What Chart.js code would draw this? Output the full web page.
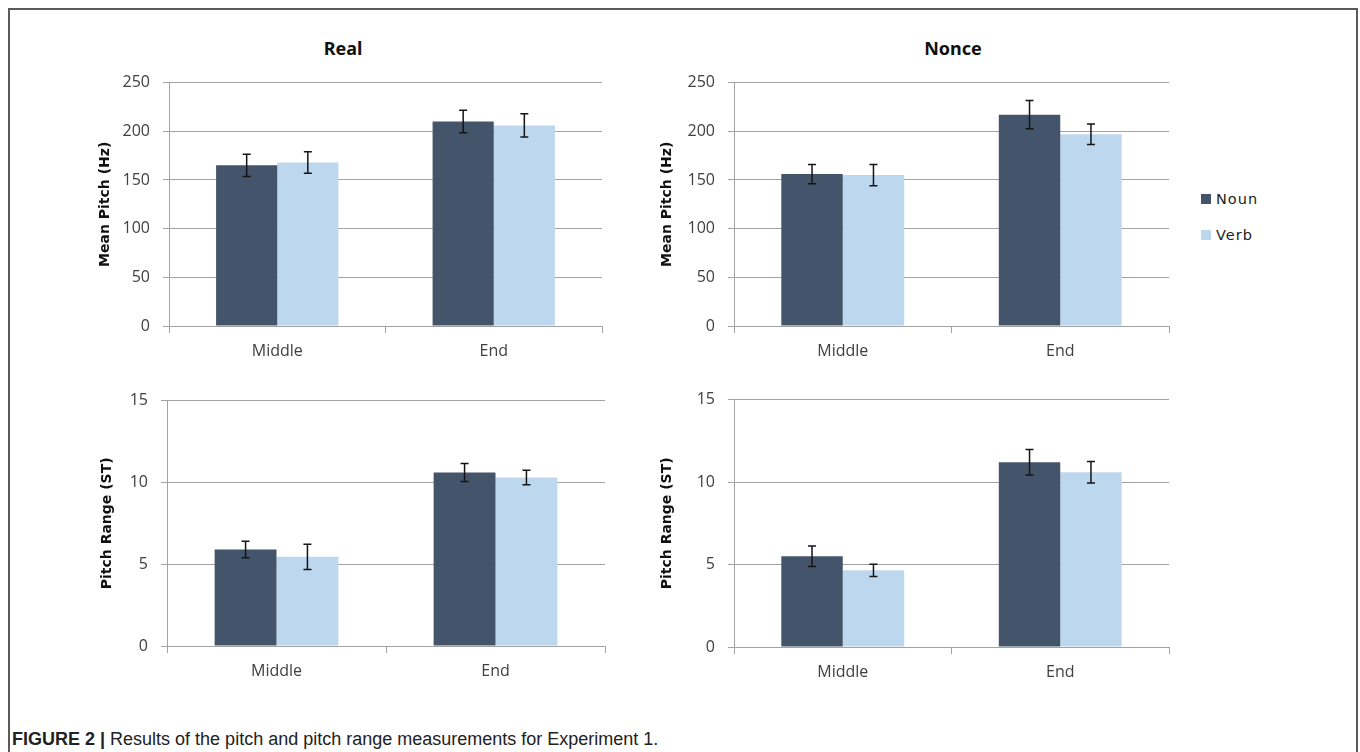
<!DOCTYPE html>
<html>
<head>
<meta charset="utf-8">
<script src="https://cdn.jsdelivr.net/npm/chart.js@4.4.1/dist/chart.umd.min.js"></script>
<style>
  body { margin: 0; background: #fff; width: 1360px; height: 752px; overflow: hidden; position: relative; }
  .frame { position: absolute; left: 8px; top: 8px; width: 1350px; height: 800px; border: 2px solid #5a5a5a; box-sizing: border-box; }
  canvas { position: absolute; }
  .title { position: absolute; top: 36px; font: bold 18px "Noto Sans", sans-serif; color: #111; transform: translateX(-50%); }
  .legend { position: absolute; left: 1201px; font: 14.5px "DejaVu Sans", sans-serif; letter-spacing: 1px; color: #222; }
  .legend div { position: relative; height: 20px; line-height: 20px; padding-left: 15px; }
  .legend span { position: absolute; left: 0; top: 5px; width: 10px; height: 10px; }
  .caption { position: absolute; left: 12px; top: 729px; font: 18px "Liberation Sans", sans-serif; color: #222; }
  .caption b { font-weight: bold; }
</style>
</head>
<body>
<div class="frame"></div>
<div class="title" style="left:343px">Real</div>
<div class="title" style="left:953px">Nonce</div>
<canvas id="realPitch"   width="560" height="310" style="left:60px;top:60px"></canvas>
<canvas id="noncePitch"  width="560" height="310" style="left:620px;top:60px"></canvas>
<canvas id="realRange"   width="560" height="312" style="left:60px;top:378px"></canvas>
<canvas id="nonceRange"  width="560" height="314" style="left:620px;top:377px"></canvas>
<div class="legend" style="top:189px">
  <div><span style="background:#44546a"></span>Noun</div>
</div>
<div class="legend" style="top:225px">
  <div><span style="background:#bdd7ee"></span>Verb</div>
</div>
<div class="caption"><b>FIGURE 2 |</b> Results of the pitch and pitch range measurements for Experiment 1.</div>

<script>
// ── Data ───────────────────────────────────────────────────────
const categories = ["Middle", "End"];
const seriesNames = ["Noun", "Verb"];

const realPitchNoun     = [165, 210];
const realPitchNounErr  = [11.5, 11.5];
const realPitchVerb     = [168, 206];
const realPitchVerbErr  = [11, 12];

const noncePitchNoun    = [156, 217];
const noncePitchNounErr = [10, 14.5];
const noncePitchVerb    = [155, 197];
const noncePitchVerbErr = [11, 10.5];

const realRangeNoun     = [5.9, 10.6];
const realRangeNounErr  = [0.5, 0.55];
const realRangeVerb     = [5.45, 10.3];
const realRangeVerbErr  = [0.77, 0.45];

const nonceRangeNoun    = [5.5, 11.2];
const nonceRangeNounErr = [0.62, 0.77];
const nonceRangeVerb    = [4.65, 10.6];
const nonceRangeVerbErr = [0.37, 0.65];

const pitchTicks = [0, 50, 100, 150, 200, 250];
const rangeTicks = [0, 5, 10, 15];

// ── Palette ────────────────────────────────────────────────────
const COLORS = {
  noun: "#44546a",
  verb: "#bdd7ee",
  grid: "#a3a3a3",
  tick: "#404040",
  err:  "#151515",
};

// ── Error bar plugin ───────────────────────────────────────────
const errorBars = {
  id: "errorBars",
  afterDatasetsDraw(chart) {
    const { ctx, scales: { y } } = chart;
    ctx.save();
    ctx.strokeStyle = COLORS.err;
    ctx.lineWidth = 1.5;
    chart.data.datasets.forEach((ds, i) => {
      chart.getDatasetMeta(i).data.forEach((bar, j) => {
        const v = ds.data[j], e = ds.errors[j];
        const top = y.getPixelForValue(v + e);
        const bot = y.getPixelForValue(v - e);
        ctx.beginPath();
        ctx.moveTo(bar.x, top); ctx.lineTo(bar.x, bot);
        ctx.moveTo(bar.x - 4, top); ctx.lineTo(bar.x + 4, top);
        ctx.moveTo(bar.x - 4, bot); ctx.lineTo(bar.x + 4, bot);
        ctx.stroke();
      });
    });
    ctx.restore();
  }
};

// ── Panel factory ──────────────────────────────────────────────
function makePanel(canvasId, { noun, nounErr, verb, verbErr, ticks, yTitle, yWidth, titlePad, padRight }) {
  const ctx = document.getElementById(canvasId);
  const max = ticks[ticks.length - 1];
  return new Chart(ctx, {
    type: "bar",
    data: {
      labels: categories,
      datasets: [
        { label: seriesNames[0], data: noun, errors: nounErr, backgroundColor: COLORS.noun },
        { label: seriesNames[1], data: verb, errors: verbErr, backgroundColor: COLORS.verb },
      ]
    },
    options: {
      responsive: false,
      animation: false,
      events: [],
      layout: { padding: { top: 20, right: padRight, left: 0, bottom: 0 } },
      datasets: { bar: { categoryPercentage: 0.565, barPercentage: 1 } },
      plugins: { legend: { display: false }, tooltip: { enabled: false } },
      scales: {
        x: {
          afterFit: s => { s.height = 44; },
          grid: { drawOnChartArea: false, drawTicks: true, tickLength: 7, color: COLORS.grid, lineWidth: 1 },
          border: { color: COLORS.grid, width: 1 },
          ticks: { color: COLORS.tick, padding: 9, font: { family: "'Open Sans'", size: 16 } }
        },
        y: {
          min: 0, max,
          afterFit: s => { s.width = yWidth; },
          afterBuildTicks: s => { s.ticks = ticks.map(v => ({ value: v })); },
          grid: { color: COLORS.grid, lineWidth: 1, tickLength: 6 },
          border: { color: COLORS.grid, width: 1 },
          ticks: { color: COLORS.tick, padding: 13, font: { family: "'Open Sans'", size: 16 } },
          title: {
            display: true, text: yTitle, color: "#111",
            padding: { top: titlePad, bottom: 0 },
            font: { family: "'DejaVu Sans'", size: 14, weight: "bold", lineHeight: 1.2 }
          }
        }
      }
    },
    plugins: [errorBars]
  });
}

makePanel("realPitch", {
  noun: realPitchNoun, nounErr: realPitchNounErr, verb: realPitchVerb, verbErr: realPitchVerbErr,
  ticks: pitchTicks, yTitle: "Mean Pitch (Hz)", yWidth: 109, titlePad: 37, padRight: 18
});
makePanel("noncePitch", {
  noun: noncePitchNoun, nounErr: noncePitchNounErr, verb: noncePitchVerb, verbErr: noncePitchVerbErr,
  ticks: pitchTicks, yTitle: "Mean Pitch (Hz)", yWidth: 114, titlePad: 38.6, padRight: 11
});
makePanel("realRange", {
  noun: realRangeNoun, nounErr: realRangeNounErr, verb: realRangeVerb, verbErr: realRangeVerbErr,
  ticks: rangeTicks, yTitle: "Pitch Range (ST)", yWidth: 107, titlePad: 39, padRight: 15
});
makePanel("nonceRange", {
  noun: nonceRangeNoun, nounErr: nonceRangeNounErr, verb: nonceRangeVerb, verbErr: nonceRangeVerbErr,
  ticks: rangeTicks, yTitle: "Pitch Range (ST)", yWidth: 114, titlePad: 38.6, padRight: 11
});
</script>
</body>
</html>
